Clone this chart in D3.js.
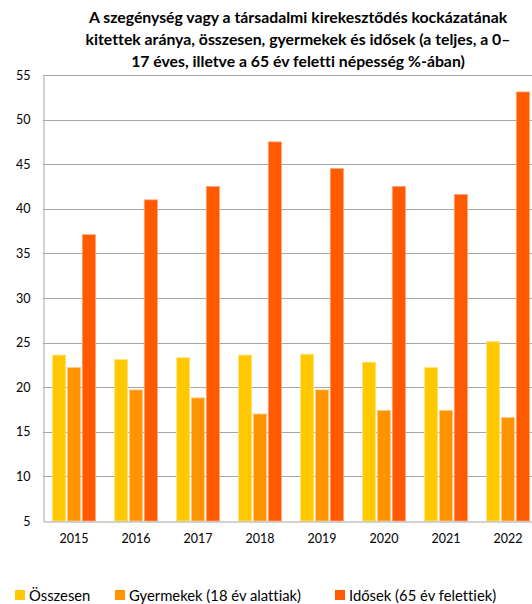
<!DOCTYPE html>
<html>
<head>
<meta charset="utf-8">
<script src="https://cdn.jsdelivr.net/npm/d3@7"></script>
<style>
  body { margin: 0; background: #fff; }
  svg { display: block; font-family: Lato, "Open Sans", sans-serif; font-variant-ligatures: none; }
</style>
</head>
<body>
<div id="chart"></div>
<script>
var w = 532
var h = 604

// data
var years = ["2015", "2016", "2017", "2018", "2019", "2020", "2021", "2022"]
var osszesen = [23.6, 23.1, 23.3, 23.6, 23.7, 22.8, 22.2, 25.1]
var gyermekek = [22.2, 19.7, 18.8, 17.0, 19.7, 17.4, 17.4, 16.6]
var idosek = [37.1, 41.0, 42.5, 47.5, 44.5, 42.5, 41.6, 53.1]
var seriesNames = ["Összesen", "Gyermekek (18 év alattiak)", "Idősek (65 év felettiek)"]
var yTicks = [5, 10, 15, 20, 25, 30, 35, 40, 45, 50, 55]
var titleLines = [
    "A szegénység vagy a társadalmi kirekesztődés kockázatának",
    "kitettek aránya, összesen, gyermekek és idősek (a teljes, a 0–",
    "17 éves, illetve a 65 év feletti népesség %-ában)"
]

var colors = ["#ffc800", "#ff9400", "#ff5a00"]   // yellow, orange, red
var strokes = ["#ffe27a", "#ffc880", "#ffa070"]

var series = [osszesen, gyermekek, idosek]

var svg = d3.select("#chart").append("svg").attr("width", w).attr("height", h)

var plotLeft = 43, plotTop = 75, plotBottom = 521
var bandW = 62

var x = d3.scaleBand().domain(years).range([plotLeft, plotLeft + bandW * years.length]).paddingInner(0.31).paddingOuter(0.155)
var x1 = d3.scaleBand().domain(d3.range(series.length)).range([0, x.bandwidth()]).paddingInner(0.12)
var y = d3.scaleLinear().domain([5, 55]).range([plotBottom, plotTop])

// title
svg.append("g").selectAll("text")
    .data(titleLines)
    .enter()
    .append("text")
    .attr("x", 298)
    .attr("y", function(d, i) { return 23 + i * 22 })
    .attr("text-anchor", "middle")
    .attr("font-size", "15.8px")
    .attr("font-weight", "bold")
    .attr("fill", "#000")
    .text(function(d) { return d })

// gridlines
svg.append("g").selectAll("line")
    .data(yTicks.slice(1))
    .enter()
    .append("line")
    .attr("x1", plotLeft).attr("x2", w)
    .attr("y1", function(d) { return Math.round(y(d)) + 0.5 })
    .attr("y2", function(d) { return Math.round(y(d)) + 0.5 })
    .attr("stroke", "#a6a6a6")
    .attr("stroke-width", 1)

// bars
years.forEach(function(yr, i) {
    var g = svg.append("g").attr("transform", "translate(" + x(yr) + ",0)")
    series.forEach(function(s, j) {
        g.append("rect")
            .attr("x", x1(j))
            .attr("y", y(s[i]))
            .attr("width", x1.bandwidth())
            .attr("height", y(5) - y(s[i]))
            .attr("fill", colors[j])
            .attr("stroke", strokes[j])
            .attr("stroke-width", 0.8)
    })
})

// y axis
var yAxis = d3.axisLeft(y).tickValues(yTicks).tickSize(0).tickPadding(13)
var gy = svg.append("g").attr("transform", "translate(" + (plotLeft + 0.5) + ",0)").call(yAxis)
gy.select(".domain").attr("stroke", "#a6a6a6")
gy.selectAll("text").attr("font-size", "12.5px").attr("fill", "#000").attr("font-family", "Lato, sans-serif")

// x axis
var xAxis = d3.axisBottom(x).tickSize(0).tickPadding(13)
var gx = svg.append("g").attr("transform", "translate(0," + (plotBottom + 0.5) + ")").call(xAxis)
gx.select(".domain").attr("stroke", "#a6a6a6")
gx.selectAll("text").attr("font-size", "12.5px").attr("fill", "#000").attr("font-family", "Lato, sans-serif")

// legend
var legendX = [15, 115, 335]
var lg = svg.append("g").selectAll("g")
    .data(seriesNames)
    .enter()
    .append("g")
    .attr("transform", function(d, i) { return "translate(" + legendX[i] + ",590)" })
lg.append("rect")
    .attr("width", 10).attr("height", 10)
    .attr("fill", function(d, i) { return colors[i] })
lg.append("text")
    .attr("x", 14)
    .attr("y", 11)
    .attr("font-size", "14.8px")
    .attr("fill", "#000")
    .text(function(d) { return d })
</script>
</body>
</html>
